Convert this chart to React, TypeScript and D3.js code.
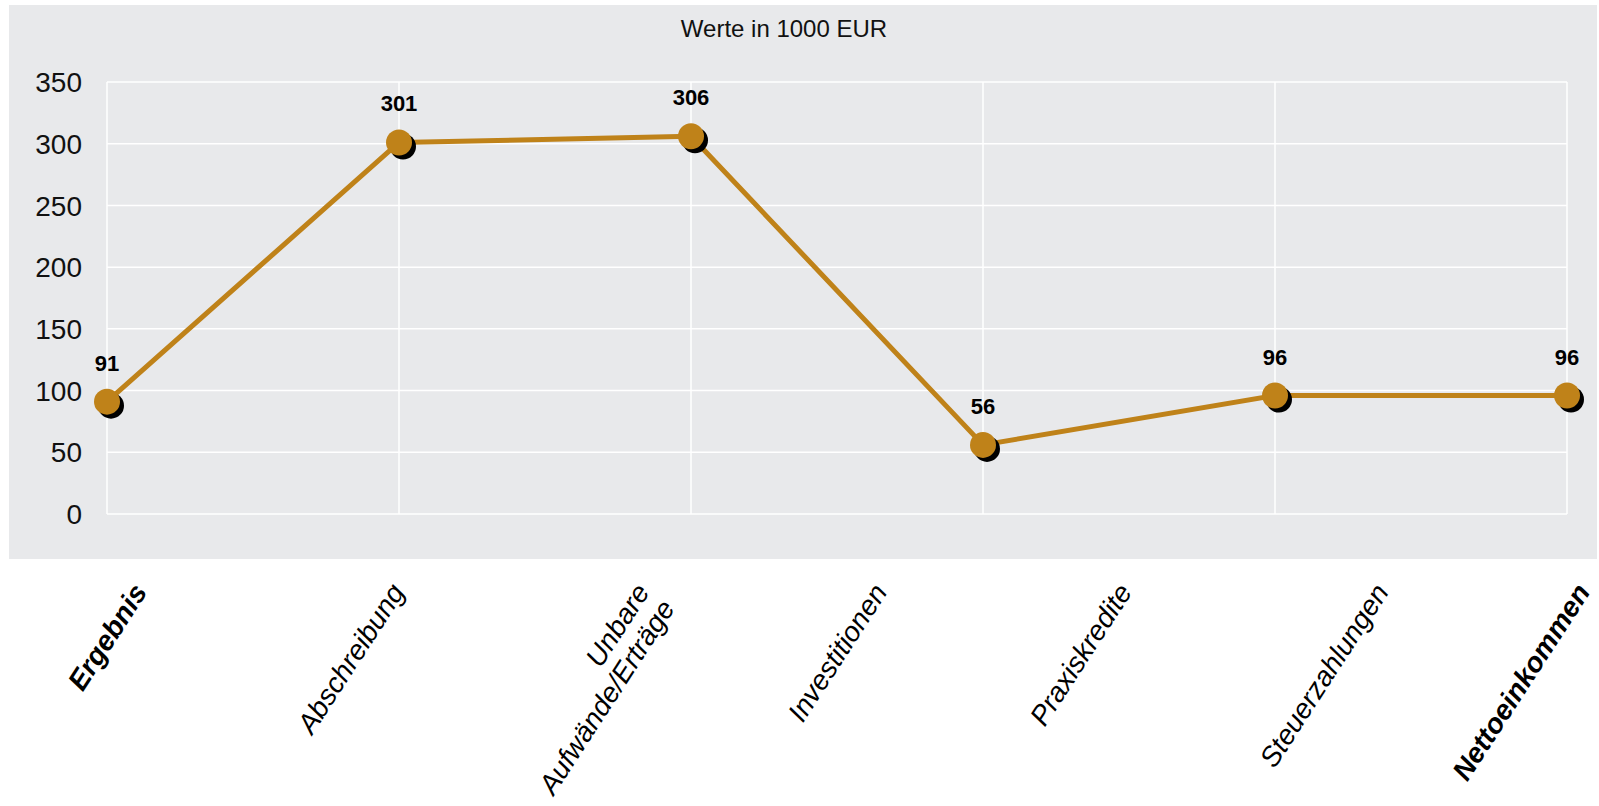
import React from 'react';
import * as d3 from 'd3';

const chartTitle = 'Werte in 1000 EUR';
const values = [91, 301, 306, 56, 96, 96];
const axisLabels: string[][] = [
  ['Ergebnis'],
  ['Abschreibung'],
  ['Unbare', 'Aufwände/Erträge'],
  ['Investitionen'],
  ['Praxiskredite'],
  ['Steuerzahlungen'],
  ['Nettoeinkommen'],
];
const boldLabels = ['Ergebnis', 'Nettoeinkommen'];
const yTicks = [0, 50, 100, 150, 200, 250, 300, 350];

const W = 1599;
const H = 806;
const FONT = '"Liberation Sans", Arial, Helvetica, sans-serif';
const GOLD = '#BF8219';
const BG = '#E8E9EB';
const LABEL_SIZE = 28;
const ANGLE = 57;

let ctx: CanvasRenderingContext2D | null = null;
function measure(text: string, bold: boolean, italic: boolean): number {
  if (!ctx) {
    const c = document.createElement('canvas');
    ctx = c.getContext('2d');
  }
  if (!ctx) return text.length * LABEL_SIZE * 0.55;
  ctx.font = `${italic ? 'italic ' : ''}${bold ? 'bold ' : ''}${LABEL_SIZE}px "Liberation Sans", Arial, sans-serif`;
  return ctx.measureText(text).width;
}

export default function App() {
  const plot = { left: 107, right: 1567, top: 82, bottom: 514 };
  const x = d3.scalePoint<number>().domain(d3.range(values.length)).range([plot.left, plot.right]);
  const xl = d3.scalePoint<number>().domain(d3.range(axisLabels.length)).range([plot.left, plot.right]);
  const y = d3.scaleLinear().domain([0, 350]).range([plot.bottom, plot.top]);
  const line = d3.line<number>().x((_, i) => x(i)!).y((d) => y(d));

  const rad = (ANGLE * Math.PI) / 180;
  const sin = Math.sin(rad);
  const cos = Math.cos(rad);
  const lineH = 30;
  const labelTop = 581;
  const italic = true;

  return (
    <svg width={W} height={H} style={{ position: 'absolute', left: 0, top: 0 }} fontFamily={FONT}>
      <rect x={0} y={0} width={W} height={H} fill="#fff" />
      <rect x={9} y={5} width={1588} height={554} fill={BG} />
      <text x={784} y={37} textAnchor="middle" fontSize={24} fill="#111">{chartTitle}</text>
      {yTicks.map((t) => (
        <line key={'h' + t} x1={plot.left} x2={plot.right} y1={y(t)} y2={y(t)} stroke="#fff" strokeWidth={1.5} />
      ))}
      {values.map((_, i) => (
        <line key={'v' + i} x1={x(i)} x2={x(i)} y1={plot.top} y2={plot.bottom} stroke="#fff" strokeWidth={1.5} />
      ))}
      {yTicks.map((t) => (
        <text key={'t' + t} x={82} y={y(t)} dy="0.36em" textAnchor="end" fontSize={28} fill="#111">{t}</text>
      ))}
      <path d={line(values) || ''} fill="none" stroke={GOLD} strokeWidth={5} strokeLinejoin="round" />
      {values.map((v, i) => (
        <g key={'m' + i}>
          <circle cx={x(i)! + 4} cy={y(v) + 4} r={13} fill="#000" />
          <circle cx={x(i)} cy={y(v)} r={13} fill={GOLD} />
          <text x={x(i)} y={y(v) - 31} textAnchor="middle" fontSize={22} fontWeight="bold" fill="#000">{v}</text>
        </g>
      ))}
      {axisLabels.map((lines, i) => {
        const bold = boldLabels.includes(lines.join(' '));
        const L = Math.max(...lines.map((ln) => measure(ln, bold, italic)));
        const hBlock = (lines.length - 1) * lineH + LABEL_SIZE * 0.72;
        const bw = L * cos + hBlock * sin;
        const bh = L * sin + hBlock * cos;
        const cx = Math.min(xl(i)!, W - 8 - bw / 2);
        const cy = labelTop + bh / 2;
        return (
          <g key={'l' + i} transform={`translate(${cx},${cy}) rotate(${-ANGLE})`}>
            {lines.map((ln, k) => (
              <text
                key={k}
                x={L / 2}
                y={(k - (lines.length - 1) / 2) * lineH}
                dy="0.36em"
                textAnchor="end"
                fontSize={LABEL_SIZE}
                fontWeight={bold ? 'bold' : 'normal'}
                fontStyle={italic ? 'italic' : 'normal'}
                fill="#000"
              >
                {ln}
              </text>
            ))}
          </g>
        );
      })}
    </svg>
  );
}
